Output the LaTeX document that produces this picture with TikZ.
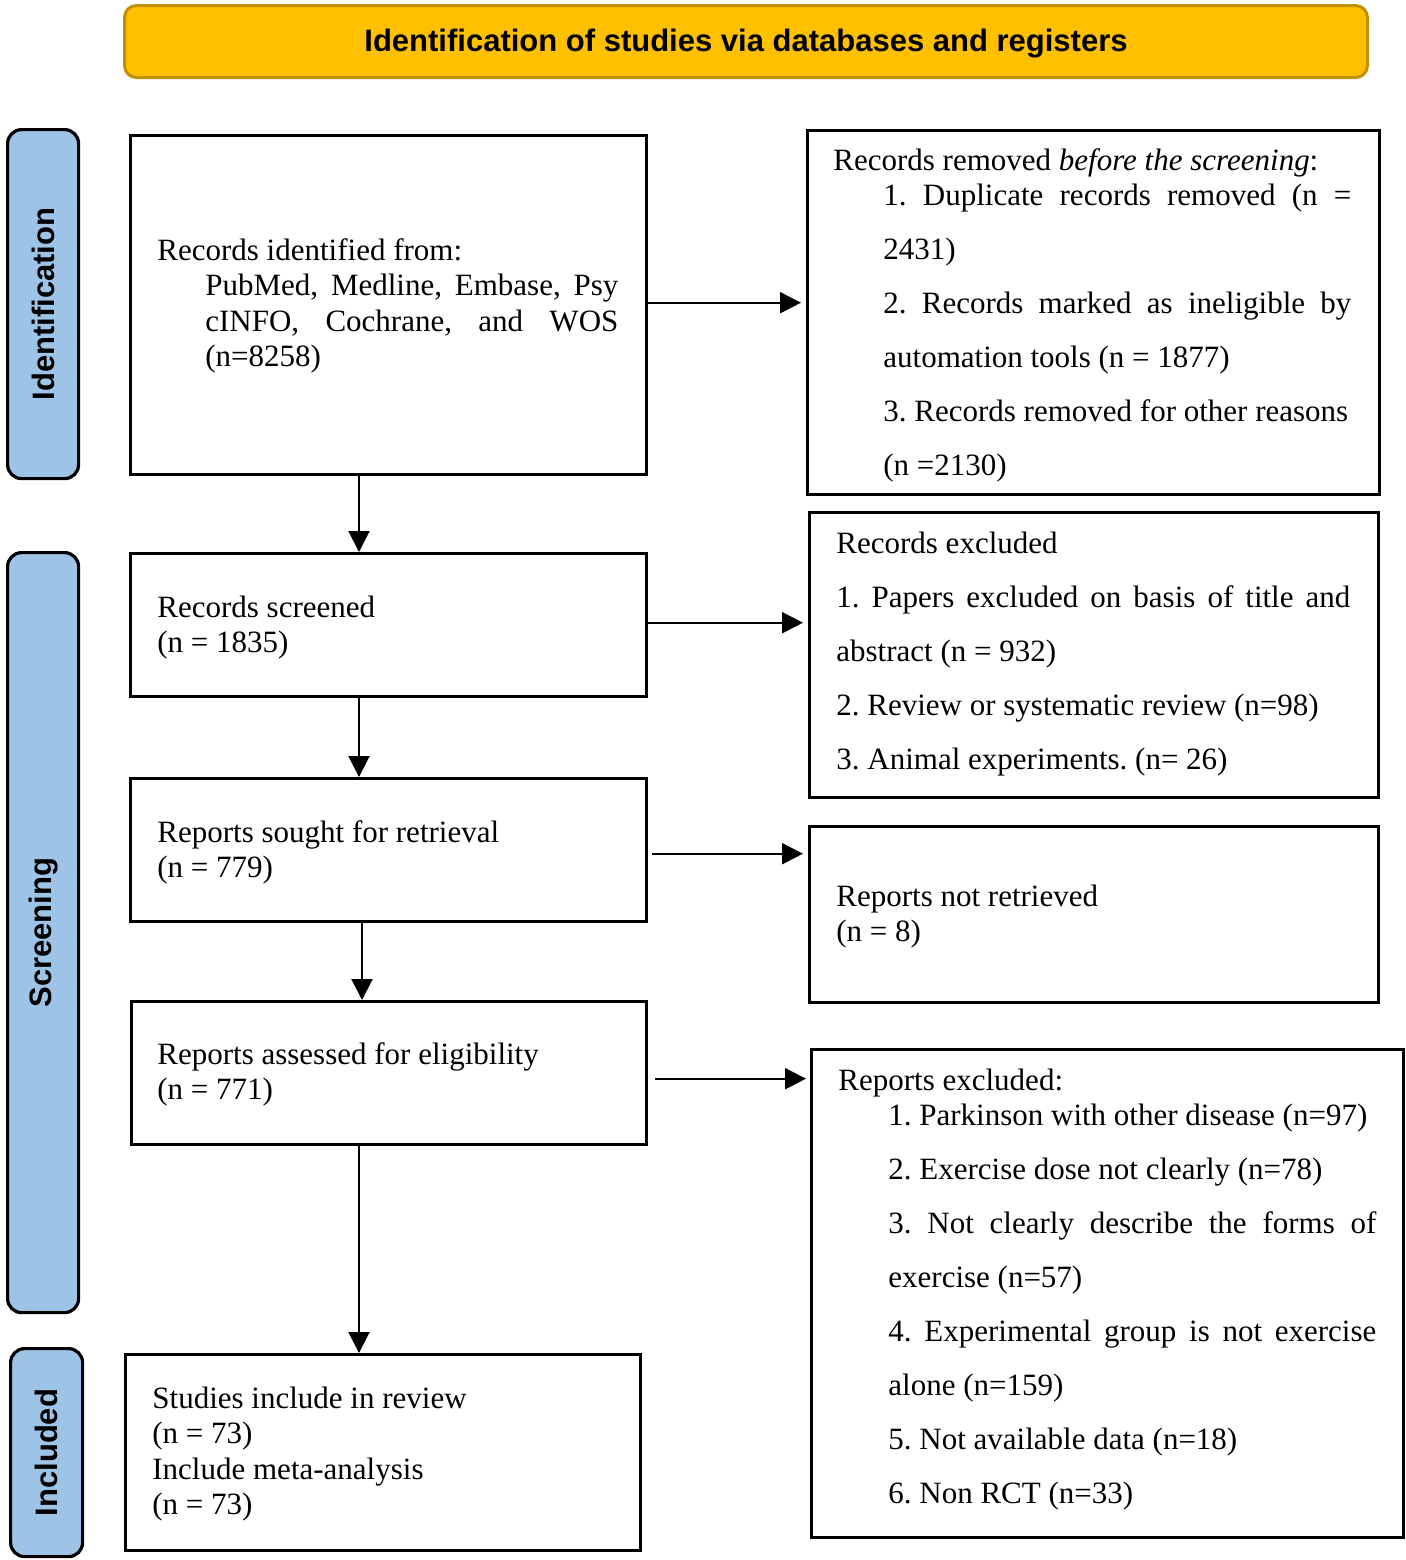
\documentclass[tikz,border=0pt]{standalone}
\usepackage{fontspec}
\setmainfont{Liberation Serif}
\setsansfont{Liberation Sans}
\usetikzlibrary{arrows.meta}
\definecolor{gold}{HTML}{FFC000}
\definecolor{goldline}{HTML}{BF9000}
\definecolor{sideblue}{HTML}{9DC3E6}
\begin{document}
\frenchspacing
\begin{tikzpicture}[x=0.5pt,y=-0.5pt,
  box/.style={draw=black,line width=1.7pt,inner sep=0pt,anchor=north west},
  side/.style={draw=black,line width=1.6pt,fill=sideblue,rounded corners=7pt,anchor=north west,inner sep=0pt},
  banner/.style={draw=goldline,line width=1.5pt,fill=gold,rounded corners=6pt,anchor=north west,inner sep=0pt},
  txt/.style={anchor=base west,inner sep=0pt,align=left,font=\fontsize{15.5}{17.75}\selectfont\frenchspacing},
  dtxt/.style={anchor=base west,inner sep=0pt,align=left,font=\fontsize{15.5}{27}\selectfont\frenchspacing},
  arr/.style={line width=1pt,-{Triangle[length=10.5pt,width=10.5pt]}},
  lab/.style={font=\sffamily\bfseries\fontsize{15.5}{18}\selectfont,rotate=90,inner sep=0pt},
  ttl/.style={font=\sffamily\bfseries\fontsize{15.5}{18}\selectfont,inner sep=0pt}]
\useasboundingbox (0,0) rectangle (1406,1560);

% banner
\node[banner,minimum width=621.5pt,minimum height=36pt] (T) at (123,4) {};
\node[ttl] (Tt) at ([yshift=-1pt]T.center) {Identification of studies via databases and registers};

% side labels
\node[side,minimum width=35.5pt,minimum height=174.5pt] (S1) at (6,128) {};
\node[lab] (S1t) at (S1.center) {Identification};
\node[side,minimum width=35.5pt,minimum height=380pt] (S2) at (6,551) {};
\node[lab] (S2t) at (S2.center) {Screening};
\node[side,minimum width=36pt,minimum height=104pt] (S3) at (9,1347) {};
\node[lab] (S3t) at (S3.center) {Included};

% left boxes (text anchors are at the baseline of the last line)
\node[box,minimum width=258pt,minimum height=169.5pt] (B1) at (129,134) {};
\node[txt] (B1t) at (157,366.5) {Records identified from:\\
\hspace*{24pt}\makebox[206.5pt][s]{PubMed, Medline, Embase, Psy}\\
\hspace*{24pt}\makebox[206.5pt][s]{cINFO, Cochrane, and WOS}\\
\hspace*{24pt}(n=8258)};

\node[box,minimum width=258pt,minimum height=71.5pt] (B2) at (129,552) {};
\node[txt] (B2t) at (157,652.5) {Records screened\\(n = 1835)};

\node[box,minimum width=258pt,minimum height=71.5pt] (B3) at (129,777) {};
\node[txt] (B3t) at (157,877.5) {Reports sought for retrieval\\(n = 779)};

\node[box,minimum width=257.5pt,minimum height=71.5pt] (B4) at (130,1000) {};
\node[txt] (B4t) at (157,1099.5) {Reports assessed for eligibility\\(n = 771)};

\node[box,minimum width=257.5pt,minimum height=98pt] (B5) at (124,1353) {};
\node[txt] (B5t) at (152,1514.5) {Studies include in review\\(n = 73)\\Include meta-analysis\\(n = 73)};

% right boxes
\node[box,minimum width=286pt,minimum height=182pt] (R1) at (806,129) {};
\node[dtxt] (R1t) at (833,475.5) {Records removed \textit{before the screening}:\\[-9.25pt]
\hspace*{25pt}\makebox[234pt][s]{1. Duplicate records removed (n =}\\
\hspace*{25pt}2431)\\
\hspace*{25pt}\makebox[234pt][s]{2. Records marked as ineligible by}\\
\hspace*{25pt}automation tools (n = 1877)\\
\hspace*{25pt}3. Records removed for other reasons\\
\hspace*{25pt}(n =2130)};

\node[box,minimum width=284.5pt,minimum height=142.5pt] (R2) at (808,511) {};
\node[dtxt] (R2t) at (836,769) {Records excluded\\
\makebox[257pt][s]{1. Papers excluded on basis of title and}\\
abstract (n = 932)\\
2. Review or systematic review (n=98)\\
3. Animal experiments. (n= 26)};

\node[box,minimum width=284.5pt,minimum height=88pt] (R3) at (808,825) {};
\node[txt] (R3t) at (836,941.5) {Reports not retrieved\\(n = 8)};

\node[box,minimum width=296pt,minimum height=244pt] (R4) at (810,1048) {};
\node[dtxt] (R4t) at (838,1503.5) {Reports excluded:\\[-9.25pt]
\hspace*{25pt}1. Parkinson with other disease (n=97)\\
\hspace*{25pt}2. Exercise dose not clearly (n=78)\\
\hspace*{25pt}\makebox[244pt][s]{3. Not clearly describe the forms of}\\
\hspace*{25pt}exercise (n=57)\\
\hspace*{25pt}\makebox[244pt][s]{4. Experimental group is not exercise}\\
\hspace*{25pt}alone (n=159)\\
\hspace*{25pt}5. Not available data (n=18)\\
\hspace*{25pt}6. Non RCT (n=33)};

% vertical connectors
\coordinate (vx) at (359,0);
\coordinate (vy) at (362,0);
\draw[arr] (B1.south -| vx) -- (B2.north -| vx);
\draw[arr] (B2.south -| vx) -- (B3.north -| vx);
\draw[arr] (B3.south -| vy) -- (B4.north -| vy);
\draw[arr] (B4.south -| vx) -- (B5.north -| vx);

% horizontal connectors
\coordinate (h1) at ([yshift=1.25pt]B1.east);
\coordinate (h2) at ([yshift=1.25pt]B2.east);
\coordinate (h3) at ([xshift=2pt,yshift=-1.75pt]B3.east);
\coordinate (h4) at ([xshift=3.5pt,yshift=-2.75pt]B4.east);
\draw[arr,shorten >=2.5pt] (h1) -- (h1 -| R1.west);
\draw[arr,shorten >=2.5pt] (h2) -- (h2 -| R2.west);
\draw[arr,shorten >=2.5pt] (h3) -- (h3 -| R3.west);
\draw[arr,shorten >=2pt] (h4) -- (h4 -| R4.west);
\end{tikzpicture}
\end{document}
